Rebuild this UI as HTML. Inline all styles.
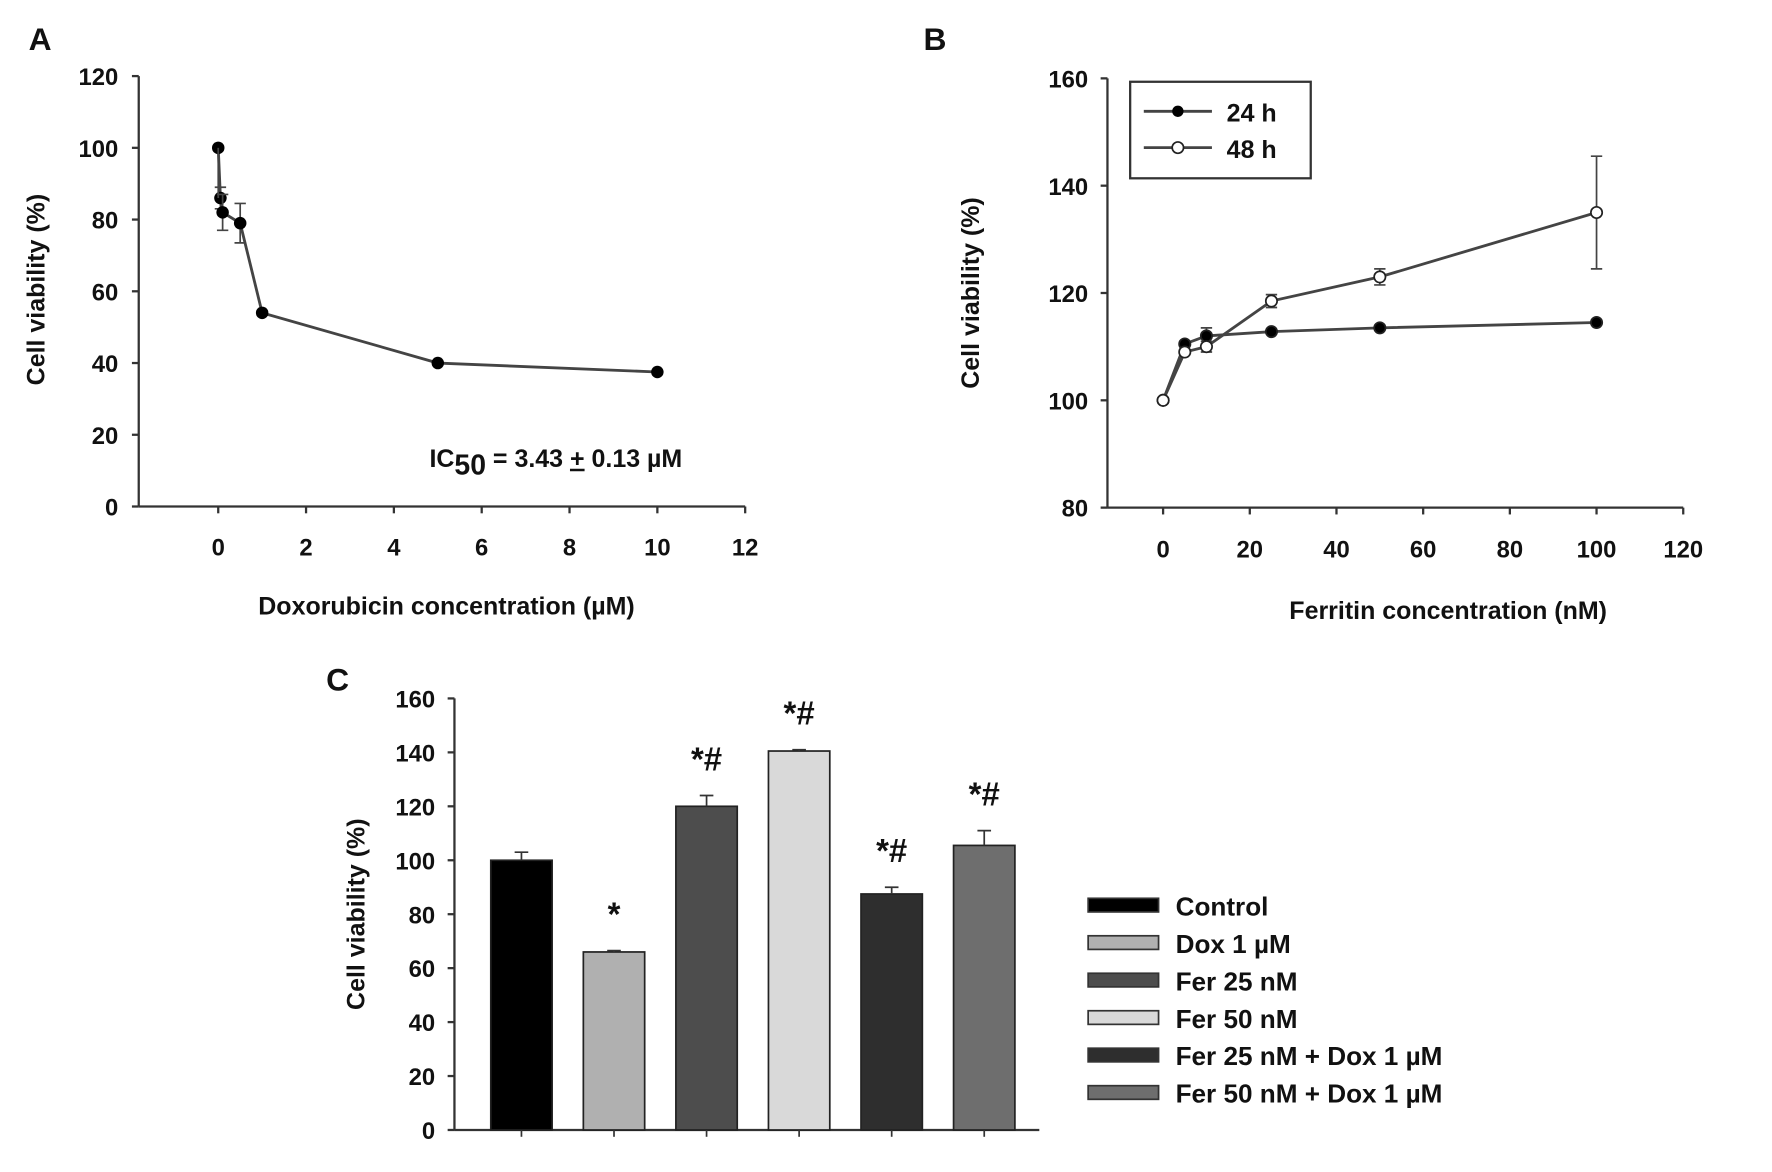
<!DOCTYPE html>
<html><head><meta charset="utf-8"><style>
html,body{margin:0;padding:0;background:#fff;}
svg{display:block;}
text{font-family:"Liberation Sans",sans-serif;font-weight:bold;fill:#111;}
.tick{font-size:21px;}
.title{font-size:22px;}
.leg{font-size:23px;}
.panel{font-size:28px;}
</style></head><body>
<svg id="fig" width="1772" height="1172" viewBox="0 0 1560 1032" xmlns="http://www.w3.org/2000/svg">
<rect width="1560" height="1032" fill="#fff"/>
<g id="pA"></g>
<g id="pB"></g>
<g id="pC"></g>
</svg>
<script>
// Panel A data
const aX = [0, 0.05, 0.1, 0.5, 1, 5, 10];
const aY = [100, 86, 82, 79, 54, 40, 37.5];
const aErr = [0, 3, 5, 5.5, 0.5, 0.5, 0.5];
const aXTicks = [0, 2, 4, 6, 8, 10, 12];
const aYTicks = [0, 20, 40, 60, 80, 100, 120];
// Panel B data
const bX = [0, 5, 10, 25, 50, 100];
const b24 = [100, 110.5, 112, 112.8, 113.5, 114.5];
const b24Err = [0, 0.5, 1.5, 0.3, 0.3, 0.3];
const b48 = [100, 109, 110, 118.5, 123, 135];
const b48Err = [0, 0.5, 1, 1.2, 1.5, 10.5];
const bXTicks = [0, 20, 40, 60, 80, 100, 120];
const bYTicks = [80, 100, 120, 140, 160];
// Panel C data
const cCats = ["Control", "Dox 1 µM", "Fer 25 nM", "Fer 50 nM", "Fer 25 nM + Dox 1 µM", "Fer 50 nM + Dox 1 µM"];
const cVals = [100, 66, 120, 140.5, 87.5, 105.5];
const cErr = [3, 0.5, 4, 0.5, 2.5, 5.5];
const cSig = ["", "*", "*#", "*#", "*#", "*#"];
const cYTicks = [0, 20, 40, 60, 80, 100, 120, 140, 160];

const NS = "http://www.w3.org/2000/svg";
function el(parent, tag, attrs, txt) {
  const e = document.createElementNS(NS, tag);
  for (const k in attrs) e.setAttribute(k, attrs[k]);
  if (txt !== undefined) e.textContent = txt;
  parent.appendChild(e);
  return e;
}
function lin(d0, d1, r0, r1) { return v => r0 + (v - d0) * (r1 - r0) / (d1 - d0); }

// ---------- Panel A ----------
(function () {
  const g = document.getElementById('pA');
  const xs = lin(0, 12, 192, 656), ys = lin(0, 120, 446, 67);
  let t = el(g, 'text', {x: 25, y: 44, class: 'panel'}, 'A');
   
  let ax = el(g, 'line', {x1: 122, y1: ys(120), x2: 122, y2: 446, stroke: '#333', 'stroke-width': 2});
   
  ax = el(g, 'line', {x1: 122, y1: 446, x2: 656, y2: 446, stroke: '#333', 'stroke-width': 2});
   
  aYTicks.forEach(v => {
    el(g, 'line', {x1: 116, y1: ys(v), x2: 122, y2: ys(v), stroke: '#333', 'stroke-width': 2});
    const tt = el(g, 'text', {x: 104, y: ys(v) + 8, class: 'tick', 'text-anchor': 'end'}, v);
     
  });
  aXTicks.forEach(v => {
    el(g, 'line', {x1: xs(v), y1: 446, x2: xs(v), y2: 452, stroke: '#333', 'stroke-width': 2});
    const tt = el(g, 'text', {x: xs(v), y: 489, class: 'tick', 'text-anchor': 'middle'}, v);
     
  });
  t = el(g, 'text', {x: 393, y: 541, class: 'title', 'text-anchor': 'middle'}, 'Doxorubicin concentration (µM)');
   
  t = el(g, 'text', {x: 0, y: 0, class: 'title', 'text-anchor': 'middle', transform: 'translate(39,255) rotate(-90)'}, 'Cell viability (%)');
   
  const pts = aX.map((x, i) => xs(x) + ',' + ys(aY[i])).join(' ');
  let ln = el(g, 'polyline', {points: pts, fill: 'none', stroke: '#444', 'stroke-width': 2.5});
   
  aX.forEach((x, i) => {
    if (aErr[i] > 1) {
      const cx = xs(x), y1 = ys(aY[i] + aErr[i]), y2 = ys(aY[i] - aErr[i]);
      el(g, 'path', {d: `M${cx},${y1}V${y2}M${cx-5},${y1}H${cx+5}M${cx-5},${y2}H${cx+5}`, stroke: '#444', 'stroke-width': 1.5, fill: 'none'});
    }
    const c = el(g, 'circle', {cx: xs(x), cy: ys(aY[i]), r: 5.5, fill: '#000'});
     
  });
  el(g, 'path', {d: `M${xs(0)},${ys(100)}V${ys(86)}`, stroke: '#444', 'stroke-width': 1.5});
  t = el(g, 'text', {x: 378, y: 411, class: 'title', 'font-size': 23});
   
  t.innerHTML = 'IC<tspan dy="7" font-size="25">50</tspan><tspan dy="-7"> = 3.43 </tspan><tspan text-decoration="underline">+</tspan> 0.13 µM';
})();

// ---------- Panel B ----------
(function () {
  const g = document.getElementById('pB');
  const xs = lin(0, 120, 1024, 1482), ys = lin(80, 160, 447, 69);
  let t = el(g, 'text', {x: 813, y: 44, class: 'panel'}, 'B');
   
  let ax = el(g, 'line', {x1: 975, y1: 69, x2: 975, y2: 447, stroke: '#333', 'stroke-width': 2});
   
  ax = el(g, 'line', {x1: 975, y1: 447, x2: 1482, y2: 447, stroke: '#333', 'stroke-width': 2});
   
  bYTicks.forEach(v => {
    el(g, 'line', {x1: 969, y1: ys(v), x2: 975, y2: ys(v), stroke: '#333', 'stroke-width': 2});
    const tt = el(g, 'text', {x: 958, y: ys(v) + 8, class: 'tick', 'text-anchor': 'end'}, v);
     
  });
  bXTicks.forEach(v => {
    el(g, 'line', {x1: xs(v), y1: 447, x2: xs(v), y2: 453, stroke: '#333', 'stroke-width': 2});
    const tt = el(g, 'text', {x: xs(v), y: 491, class: 'tick', 'text-anchor': 'middle'}, v);
     
  });
  t = el(g, 'text', {x: 1275, y: 545, class: 'title', 'text-anchor': 'middle'}, 'Ferritin concentration (nM)');
   
  t = el(g, 'text', {x: 0, y: 0, class: 'title', 'text-anchor': 'middle', transform: 'translate(862,258) rotate(-90)'}, 'Cell viability (%)');
   
  function series(vals, errs, fill, name) {
    const pts = bX.map((x, i) => xs(x) + ',' + ys(vals[i])).join(' ');
    const ln = el(g, 'polyline', {points: pts, fill: 'none', stroke: '#444', 'stroke-width': 2.5});
     
    bX.forEach((x, i) => {
      if (errs[i] > 0.4) {
        const cx = xs(x), y1 = ys(vals[i] + errs[i]), y2 = ys(vals[i] - errs[i]);
        el(g, 'path', {d: `M${cx},${y1}V${y2}M${cx-5},${y1}H${cx+5}M${cx-5},${y2}H${cx+5}`, stroke: '#444', 'stroke-width': 1.5, fill: 'none'});
      }
    });
    bX.forEach((x, i) => {
      const c = el(g, 'circle', {cx: xs(x), cy: ys(vals[i]), r: 5, fill: fill, stroke: '#222', 'stroke-width': 1.5});
       
    });
  }
  series(b24, b24Err, '#000', '24h');
  series(b48, b48Err, '#fff', '48h');
  const lg = el(g, 'g', {});
   
  el(lg, 'rect', {x: 995, y: 72, width: 159, height: 85, fill: '#fff', stroke: '#333', 'stroke-width': 2});
  el(lg, 'line', {x1: 1007, y1: 98, x2: 1067, y2: 98, stroke: '#444', 'stroke-width': 2.5});
  el(lg, 'circle', {cx: 1037, cy: 98, r: 5, fill: '#000'});
  t = el(lg, 'text', {x: 1080, y: 107, class: 'title', 'font-size': 24}, '24 h');
   
  el(lg, 'line', {x1: 1007, y1: 130, x2: 1067, y2: 130, stroke: '#444', 'stroke-width': 2.5});
  el(lg, 'circle', {cx: 1037, cy: 130, r: 5, fill: '#fff', stroke: '#222', 'stroke-width': 1.5});
  t = el(lg, 'text', {x: 1080, y: 139, class: 'title', 'font-size': 24}, '48 h');
   
})();

// ---------- Panel C ----------
(function () {
  const g = document.getElementById('pC');
  const ys = lin(0, 160, 995, 615);
  const colors = ['#000', '#b0b0b0', '#4d4d4d', '#d9d9d9', '#2e2e2e', '#6e6e6e'];
  const c0 = 459, step = 81.5, bw = 54;
  let t = el(g, 'text', {x: 287, y: 608, class: 'panel'}, 'C');
   
  let ax = el(g, 'line', {x1: 400, y1: 615, x2: 400, y2: 995, stroke: '#333', 'stroke-width': 2});
   
  ax = el(g, 'line', {x1: 400, y1: 995, x2: 915, y2: 995, stroke: '#333', 'stroke-width': 2});
   
  cYTicks.forEach(v => {
    el(g, 'line', {x1: 394, y1: ys(v), x2: 400, y2: ys(v), stroke: '#333', 'stroke-width': 2});
    const tt = el(g, 'text', {x: 383, y: ys(v) + 8, class: 'tick', 'text-anchor': 'end'}, v);
     
  });
  t = el(g, 'text', {x: 0, y: 0, class: 'title', 'text-anchor': 'middle', transform: 'translate(321,805) rotate(-90)'}, 'Cell viability (%)');
   
  cVals.forEach((v, i) => {
    const cx = c0 + i * step;
    const b = el(g, 'rect', {x: cx - bw / 2, y: ys(v), width: bw, height: ys(0) - ys(v), fill: colors[i], stroke: '#222', 'stroke-width': 1.5});
     
    el(g, 'line', {x1: cx, y1: 995, x2: cx, y2: 1001, stroke: '#333', 'stroke-width': 1.5});
    const ye = ys(v + cErr[i]);
    el(g, 'path', {d: `M${cx},${ys(v)}V${ye}M${cx-6},${ye}H${cx+6}`, stroke: '#333', 'stroke-width': 1.5, fill: 'none'});
    if (cSig[i]) {
      const st = el(g, 'text', {x: cx, y: ye - 22, 'font-size': 29, 'text-anchor': 'middle'}, cSig[i]);
       
    }
  });
  const lg = el(g, 'g', {});
   
  cCats.forEach((c, i) => {
    const y = 797 + i * 33;
    el(lg, 'rect', {x: 958, y: y - 6, width: 62, height: 12, fill: colors[i], stroke: '#333', 'stroke-width': 1.5});
    const tt = el(lg, 'text', {x: 1035, y: y + 9, class: 'leg'}, c);
     
  });
})();
</script>
</body></html>
